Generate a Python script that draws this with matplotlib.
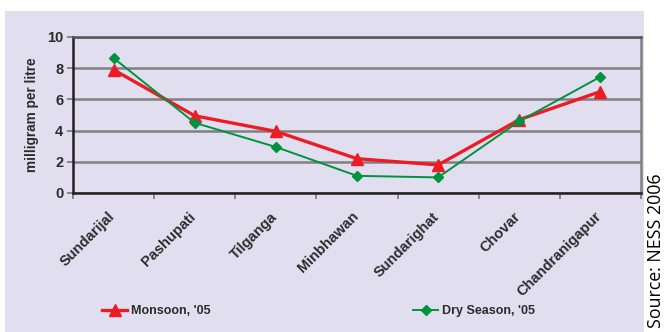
import matplotlib.pyplot as plt
from matplotlib.patches import Rectangle
from matplotlib.transforms import ScaledTranslation

sites = ['Sundarijal', 'Pashupati', 'Tilganga', 'Minbhawan',
         'Sundarighat', 'Chovar', 'Chandranigapur']
monsoon = [7.9, 4.95, 3.95, 2.2, 1.8, 4.7, 6.5]
dry = [8.65, 4.5, 2.95, 1.1, 1.0, 4.6, 7.45]
yticks = [0, 2, 4, 6, 8, 10]

plt.rcParams['font.family'] = ['Liberation Sans', 'DejaVu Sans']
txt = '#2b2b2b'

fig = plt.figure(figsize=(6.65, 3.32), dpi=100)
fig.patch.set_facecolor('white')
# lavender panel behind the chart
fig.patches.append(Rectangle((5/665, 0), (644-5)/665, (332-11)/332,
                             transform=fig.transFigure, facecolor='#e1dfef',
                             edgecolor='none', zorder=-10))

ax = fig.add_axes([73/665, 1-193/332, (641-73)/665, (193-37)/332])
ax.set_facecolor('#e1dfef')
x = range(len(sites))
ax.plot(x, monsoon, color='#ed1c24', lw=2.4, marker='^', ms=8.5,
        label="Monsoon, '05", zorder=3)
ax.plot(x, dry, color='#00923f', lw=1.4, marker='D', ms=5.5,
        label="Dry Season, '05", zorder=4)

ax.set_xlim(-0.5, 6.5)
ax.set_ylim(0, 10)
ax.set_yticks(yticks)
ax.set_yticklabels([str(v) for v in yticks], fontweight='bold', fontsize=10.5,
                   color=txt)
ax.set_xticks([i + 0.5 for i in range(-1, 7)], minor=False)
ax.set_xticklabels([])
ax.set_xticks(list(x), minor=True)
ax.set_xticklabels(sites, minor=True, rotation=45, ha='right',
                   rotation_mode='anchor', fontweight='bold',
                   fontsize=10.5, color=txt)
ax.tick_params(axis='x', which='minor', length=0, pad=9)
ax.tick_params(axis='x', which='major', length=4, width=1.2, color='#777777')
ax.tick_params(axis='y', length=4, width=1.2, color='#777777', pad=3)
# nudge the slanted site names down and to the left
shift = ScaledTranslation(-6/100, -4/100, fig.dpi_scale_trans)
for lab in ax.xaxis.get_minorticklabels():
    lab.set_transform(lab.get_transform() + shift)
ax.grid(axis='y', color='#808080', lw=1.8)
ax.set_axisbelow(True)
for s in ['left', 'bottom']:
    ax.spines[s].set_color('#231f20')
    ax.spines[s].set_linewidth(1.8)
ax.spines['right'].set_color('#808080')
ax.spines['right'].set_linewidth(1.8)
ax.spines['top'].set_color('#555555')
ax.spines['top'].set_linewidth(1.8)
ax.set_ylabel('milligram per litre', fontweight='bold', fontsize=9.8,
              labelpad=6, color=txt)

leg = fig.legend(loc='center left', bbox_to_anchor=(91/665, 1-311/332), ncol=2,
                 frameon=False, handlelength=2.0, handletextpad=0.3,
                 columnspacing=16.2, prop={'weight': 'bold', 'size': 9})
for t in leg.get_texts():
    t.set_color(txt)

fig.text(656/665, 1-251/332, 'Source: NESS 2006', rotation=90,
         ha='center', va='center', fontsize=12.8, family='Open Sans')

fig.savefig('out.png', dpi=100)
